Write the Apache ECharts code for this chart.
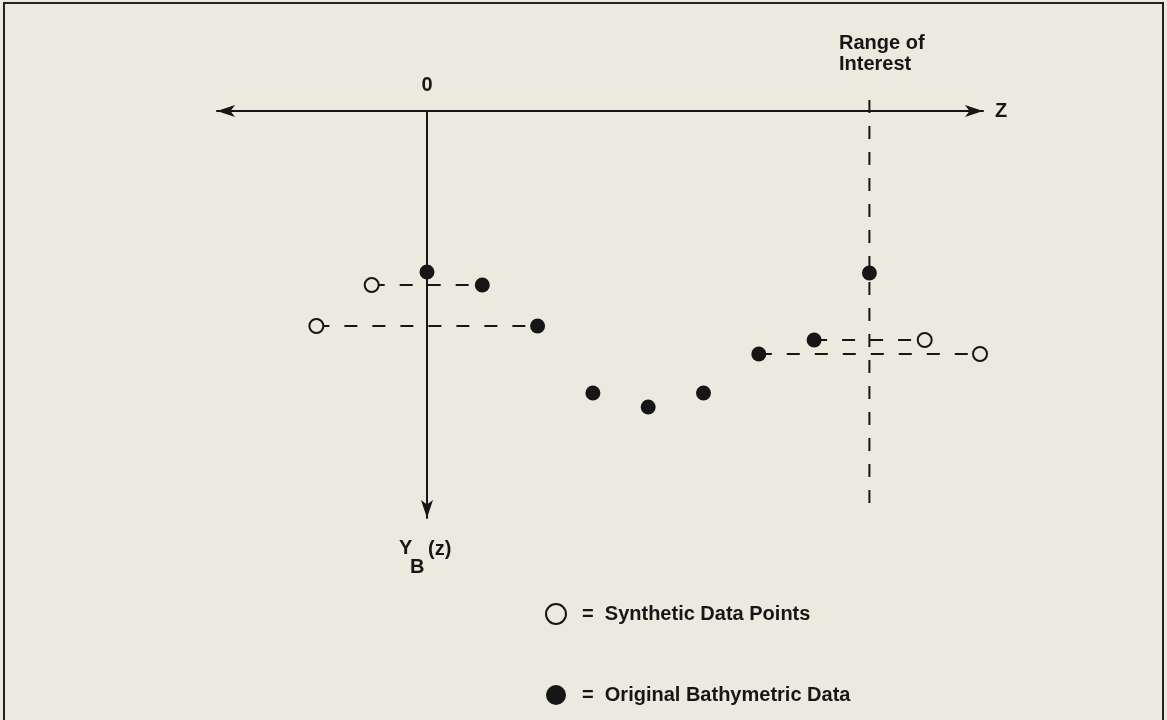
<!DOCTYPE html>
<html><head><meta charset="utf-8">
<script src="https://cdn.jsdelivr.net/npm/echarts@6/dist/echarts.min.js"></script>
<style>html,body{margin:0;padding:0;background:#eceadf;}#c{width:1167px;height:720px;}</style>
</head><body><div id="c"></div>
<script>
// Original bathymetric data (range index z, depth Y_B)
const zFilled = [0, 1, 2, 3, 4, 5, 6, 7, 8];
const yFilled = [1.61, 1.74, 2.15, 2.82, 2.96, 2.82, 2.43, 2.29, 1.62];
// Synthetic data points
const zOpen = [-1, -2, 9, 10];
const yOpen = [1.74, 2.15, 2.29, 2.43];
// Dashed reflection lines: [zStart, zEnd, depth]
const segments = [[-1, 1, 1.74], [-2, 2, 2.15], [7, 9, 2.29], [6, 10, 2.43]];
// Range of interest vertical line: [z, depthTop, depthBottom]
const rangeLine = [8, -0.11, 3.94];
const xTickLabels = [0];
const names = ['Synthetic Data Points', 'Original Bathymetric Data'];

const ink = '#161616';
const bg = '#eceadf';
const font = 'Liberation Sans';
const chart = echarts.init(document.getElementById('c'));
const series = [];
segments.forEach(s => series.push({
  type: 'line', data: [[s[0], s[2]], [s[1], s[2]]], showSymbol: false, clip: false, silent: true,
  lineStyle: {color: ink, width: 2, type: [13, 15]}, z: 1
}));
series.push({
  type: 'line', data: [[rangeLine[0], rangeLine[1]], [rangeLine[0], rangeLine[2]]], showSymbol: false, clip: false,
  lineStyle: {color: ink, width: 2, type: [13, 13]}, z: 1
});
series.push({
  name: names[0], type: 'scatter', clip: false, symbol: 'circle', symbolSize: 14,
  data: zOpen.map((z, i) => [z, yOpen[i]]),
  itemStyle: {color: bg, borderColor: ink, borderWidth: 2, opacity: 1}, z: 3
});
series.push({
  name: names[1], type: 'scatter', clip: false, symbol: 'circle', symbolSize: 15,
  data: zFilled.map((z, i) => [z, yFilled[i]]),
  itemStyle: {color: ink, opacity: 1}, z: 3
});

chart.setOption({
  backgroundColor: bg,
  animation: false,
  grid: {left: 217, right: 184, top: 111, bottom: 202},
  xAxis: {
    type: 'value', min: -3.797, max: 10.054, position: 'top',
    axisLine: {onZero: false, show: true, symbol: ['arrow', 'arrow'], symbolSize: [9, 18], lineStyle: {color: ink, width: 2}},
    axisTick: {show: false}, splitLine: {show: false},
    axisLabel: {customValues: xTickLabels, margin: 16, fontSize: 20, fontWeight: 'bold', color: ink, fontFamily: font},
    name: 'Z', nameLocation: 'end', nameGap: 12,
    nameTextStyle: {fontSize: 20, fontWeight: 'bold', color: ink, fontFamily: font, verticalAlign: 'middle'}
  },
  yAxis: {
    type: 'value', min: 0, max: 4.07, inverse: true,
    axisLine: {onZero: true, show: true, symbol: ['arrow', 'none'], symbolSize: [9, 18], lineStyle: {color: ink, width: 2}},
    axisTick: {show: false}, splitLine: {show: false}, axisLabel: {show: false}
  },
  legend: {
    orient: 'vertical', left: 540, top: 598, itemWidth: 20, itemHeight: 20, itemGap: 60,
    icon: 'circle', data: names, formatter: n => '=  ' + n,
    textStyle: {fontSize: 20, fontWeight: 'bold', color: ink, fontFamily: font, padding: [0, 0, 0, 11]}
  },
  graphic: [
    {type: 'rect', shape: {x: 4, y: 3, width: 1159, height: 760}, style: {fill: 'none', stroke: '#222', lineWidth: 2}, silent: true},
    {type: 'text', left: 839, top: 33, style: {text: 'Range of\nInterest', fontSize: 20, fontWeight: 'bold', fill: ink, fontFamily: font, lineHeight: 21}},
    {type: 'text', left: 399, top: 538, style: {text: 'Y', fontSize: 20, fontWeight: 'bold', fill: ink, fontFamily: font}},
    {type: 'text', left: 410, top: 557, style: {text: 'B', fontSize: 20, fontWeight: 'bold', fill: ink, fontFamily: font}},
    {type: 'text', left: 428, top: 539, style: {text: '(z)', fontSize: 20, fontWeight: 'bold', fill: ink, fontFamily: font}}
  ],
  series: series
});
</script></body></html>
